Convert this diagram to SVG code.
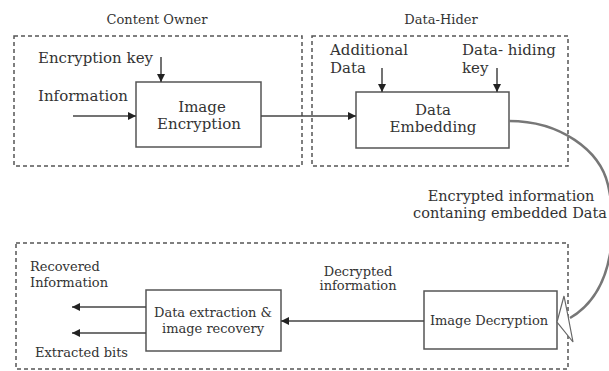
<svg xmlns="http://www.w3.org/2000/svg" width="609" height="371" viewBox="0 0 609 371">
<defs>
<style>
text{font-family:"DejaVu Serif","Liberation Serif",serif;fill:#333}
.big{font-size:15px}
.mid{font-size:14.5px}
.sm{font-size:13px}
.grp{fill:none;stroke:#555;stroke-width:1.5;stroke-dasharray:4 3}
.box{fill:#fff;stroke:#555;stroke-width:1.5}
.ln{fill:none;stroke:#444;stroke-width:1.5}
</style>
<marker id="ah" viewBox="0 0 10 10" refX="10" refY="5" markerWidth="9" markerHeight="8" markerUnits="userSpaceOnUse" orient="auto">
<path d="M0,0 L10,5 L0,10 Z" fill="#222"/>
</marker>
</defs>
<rect width="609" height="371" fill="#fff"/>
<g id="content-owner">
<text class="sm" x="157" y="24" text-anchor="middle">Content Owner</text>
<rect class="grp" x="14" y="36" width="288" height="130"/>
<text class="big" x="38" y="63">Encryption key</text>
<text class="big" x="38" y="101">Information</text>
</g>
<g id="image-encryption">
<rect class="box" x="136" y="82" width="125" height="65"/>
<text class="big" x="202" y="112" text-anchor="middle">Image</text>
<text class="big" x="199" y="129" text-anchor="middle">Encryption</text>
</g>
<g id="data-hider">
<text class="sm" x="441" y="24" text-anchor="middle">Data-Hider</text>
<rect class="grp" x="312" y="36" width="256" height="130"/>
<text class="big" x="330" y="55">Additional</text>
<text class="big" x="330" y="73">Data</text>
<text class="big" x="462" y="55">Data- hiding</text>
<text class="big" x="462" y="73">key</text>
</g>
<g id="data-embedding">
<rect class="box" x="356" y="92" width="153" height="56"/>
<text class="big" x="433" y="115" text-anchor="middle">Data</text>
<text class="big" x="433" y="132" text-anchor="middle">Embedding</text>
</g>
<g id="receiver">
<rect class="grp" x="16" y="243" width="552" height="126"/>
<text class="sm" x="30" y="271">Recovered</text>
<text class="sm" x="30" y="287">Information</text>
<text class="sm" x="35" y="357">Extracted bits</text>
<text class="sm" x="358" y="276" text-anchor="middle">Decrypted</text>
<text class="sm" x="358" y="290" text-anchor="middle">information</text>
</g>
<g id="image-decryption">
<rect class="box" x="424" y="291" width="133" height="58"/>
<text class="sm" x="489" y="325" text-anchor="middle">Image Decryption</text>
</g>
<g id="data-extraction">
<rect class="box" x="146" y="290" width="135" height="61"/>
<text class="sm" x="213" y="317" text-anchor="middle">Data extraction &amp;</text>
<text class="sm" x="213" y="333" text-anchor="middle">image recovery</text>
</g>
<g id="channel-label">
<text class="mid" x="511" y="201" text-anchor="middle">Encrypted information</text>
<text class="mid" x="510" y="218" text-anchor="middle">contaning embedded Data</text>
</g>
<g id="connectors">
<line class="ln" x1="161" y1="57" x2="161" y2="82" marker-end="url(#ah)"/>
<line class="ln" x1="73" y1="116" x2="136" y2="116" marker-end="url(#ah)"/>
<line class="ln" x1="261" y1="116" x2="356" y2="116" marker-end="url(#ah)"/>
<line class="ln" x1="382" y1="68" x2="382" y2="92" marker-end="url(#ah)"/>
<line class="ln" x1="497" y1="68" x2="497" y2="92" marker-end="url(#ah)"/>
<path d="M509 121 C560 121 600 150 608 185 C616 220 618 290 570 318" fill="none" stroke="#777" stroke-width="2.5"/>
<path d="M564 296 L557 322 L573 342 L568 316 Z" fill="#fff" stroke="#666" stroke-width="1.2"/>
<line class="ln" x1="424" y1="321" x2="281" y2="321" marker-end="url(#ah)"/>
<line class="ln" x1="146" y1="307" x2="72" y2="307" marker-end="url(#ah)"/>
<line class="ln" x1="146" y1="333" x2="72" y2="333" marker-end="url(#ah)"/>
</g>
</svg>
